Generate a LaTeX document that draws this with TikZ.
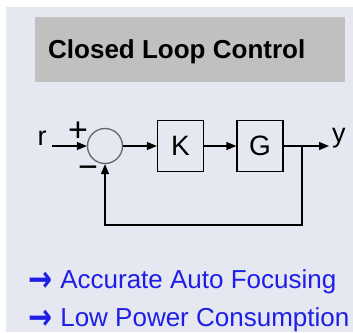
\documentclass[tikz,border=0pt]{standalone}
\usepackage{fontspec}
\setmainfont{Liberation Sans}
\newfontfamily\arrowfont{DejaVu Sans}
\usetikzlibrary{arrows.meta, positioning}
\definecolor{slidebg}{RGB}{229,231,241}
\definecolor{titlegray}{RGB}{192,192,192}
\definecolor{bulletblue}{RGB}{30,30,230}
\newcommand{\bulletarrow}{\raisebox{-3.5pt}{\scalebox{0.8}[1]{\arrowfont\bfseries\fontsize{36}{36}\selectfont →}}\hspace{8pt}}

\begin{document}
\begin{tikzpicture}[
    x=1pt, y=-1pt,
    block/.style={draw, line width=1.3pt, minimum width=46pt, minimum height=51pt, inner sep=0pt, font=\fontsize{28}{28}\selectfont},
    sumnode/.style={draw=black!60, circle, line width=1.3pt, minimum size=35pt, inner sep=0pt},
    arr/.style={-{Triangle[length=10pt, width=8pt]}, line width=1.3pt},
    sig/.style={inner sep=0pt, font=\fontsize{27}{27}\selectfont},
    sign/.style={inner sep=0pt, font=\fontsize{34}{34}\selectfont},
    bullet/.style={anchor=base west, inner sep=0pt, text=bulletblue, font=\fontsize{26}{26}\selectfont},
]

\useasboundingbox (0,0) rectangle (353,332);
\fill[slidebg] (6,7) rectangle (353,332);

% Title bar
\node[fill=titlegray, anchor=north west, minimum width=310pt, minimum height=65pt, inner sep=0pt] (titlebar) at (35,17) {};
\node[anchor=base west, inner sep=0pt, font=\bfseries\fontsize{26}{26}\selectfont] (title) at (48,58) {Closed Loop Control};

% Loop blocks
\node[sumnode] (sum) at (105,146) {};
\node[block] (K) at (180.5,146) {K};
\node[block] (G) at (260,146) {G};

\coordinate (rin) at (52,146);
\coordinate (branch) at (302,146);
\coordinate (yout) at (329,146);
\coordinate (fb) at (302,225);

% Signal labels
\node[sig] (r) at (42,138) {r};
\node[sig, anchor=west] (y) at (332,138) {y};
\node[sign] (plus) at (78,132) {+};
\node[sign] (minus) at (88,172) {−};

% Connections
\draw[arr] (rin) -- (sum);
\draw[arr] (sum) -- (K);
\draw[arr] (K) -- (G);
\draw[arr] (G) -- (yout);
\draw[arr] (branch) -- (fb) -| (sum);

% Benefits
\node[bullet] (acc) at (28,288) {\bulletarrow Accurate Auto Focusing};
\node[bullet] (pow) at (28,326) {\bulletarrow Low Power Consumption};

\end{tikzpicture}
\end{document}
